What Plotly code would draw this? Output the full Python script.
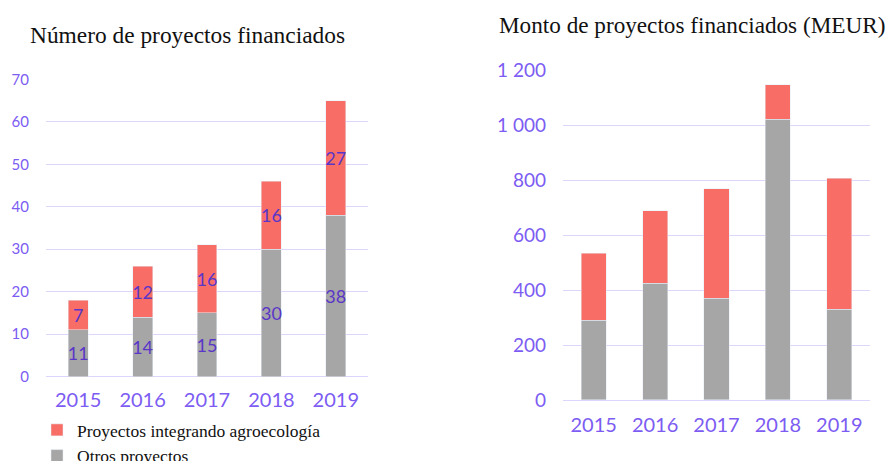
import plotly.graph_objects as go

years = ["2015", "2016", "2017", "2018", "2019"]
num_otros = [11, 14, 15, 30, 38]
num_agro = [7, 12, 16, 16, 27]
monto_otros = [291, 425, 370, 1024, 330]
monto_agro = [244, 265, 399, 125, 478]

RED = "#f86e66"
GRAY = "#a6a6a6"
TICK = "#7c5cf2"
LABEL = "#5a36c8"
GRID = "#ddd6fa"
NUMFONT = "Lato"
SERIF = "Liberation Serif"

fig = go.Figure()
fig.add_trace(go.Bar(x=years, y=num_otros, name="Otros proyectos", marker_color=GRAY,
                     text=num_otros, textposition="inside", insidetextanchor="middle",
                     constraintext="none", textangle=0,
                     textfont=dict(family=NUMFONT, size=18, color=LABEL),
                     xaxis="x", yaxis="y"))
fig.add_trace(go.Bar(x=years, y=num_agro, name="Proyectos integrando agroecología", marker_color=RED,
                     text=num_agro, textposition="inside", insidetextanchor="middle",
                     constraintext="none", textangle=0,
                     textfont=dict(family=NUMFONT, size=18, color=LABEL),
                     xaxis="x", yaxis="y"))
fig.add_trace(go.Bar(x=years, y=monto_otros, name="Otros proyectos", marker_color=GRAY,
                     xaxis="x2", yaxis="y2", showlegend=False, width=0.41))
fig.add_trace(go.Bar(x=years, y=monto_agro, name="Proyectos integrando agroecología", marker_color=RED,
                     xaxis="x2", yaxis="y2", showlegend=False, width=0.41))

W, H = 888, 461
fig.update_layout(
    width=W, height=H, margin=dict(l=0, r=0, t=0, b=0, autoexpand=False),
    paper_bgcolor="white", plot_bgcolor="white",
    barmode="stack", bargap=0.69,
    separators=", ",
    showlegend=True,
    legend=dict(x=37 / W, y=1 - 412 / H, xanchor="left", yanchor="top",
                traceorder="reversed",
                font=dict(family=SERIF, size=17.5, color="#111111"),
                bgcolor="rgba(0,0,0,0)", itemwidth=30, tracegroupgap=0),
    xaxis=dict(domain=[46 / W, 368 / W], anchor="y", showgrid=False, showline=False,
               tickfont=dict(family=NUMFONT, size=20, color=TICK), ticks="", ticklabelstandoff=9),
    yaxis=dict(domain=[1 - 376.7 / H, 1 - 79.3 / H], anchor="x", range=[0, 70], dtick=10,
               gridcolor=GRID, gridwidth=1, zeroline=True, zerolinecolor=GRID, zerolinewidth=1,
               tickfont=dict(family=NUMFONT, size=15, color=TICK), ticklabelstandoff=16),
    xaxis2=dict(domain=[563 / W, 870 / W], anchor="y2", showgrid=False, showline=False,
                tickfont=dict(family=NUMFONT, size=20, color=TICK), ticks="", ticklabelstandoff=11),
    yaxis2=dict(domain=[1 - 400 / H, 1 - 70.7 / H], anchor="x2", range=[0, 1200], dtick=200,
                separatethousands=True,
                gridcolor=GRID, gridwidth=1, zeroline=True, zerolinecolor=GRID, zerolinewidth=1,
                tickfont=dict(family=NUMFONT, size=19, color=TICK), ticklabelstandoff=16),
    annotations=[
        dict(text="Número de proyectos financiados", x=187 / W, y=1 - 35 / H, xref="paper", yref="paper",
             xanchor="center", yanchor="middle",
             showarrow=False, font=dict(family=SERIF, size=23.4, color="#111111")),
        dict(text="Monto de proyectos financiados (MEUR)", x=692 / W, y=1 - 25 / H, xref="paper", yref="paper",
             xanchor="center", yanchor="middle",
             showarrow=False, font=dict(family=SERIF, size=23.2, color="#111111")),
    ],
)

fig.write_html("out.html", config={"displayModeBar": False},
               post_script="document.body.style.margin='0';document.documentElement.style.overflow='hidden';")
